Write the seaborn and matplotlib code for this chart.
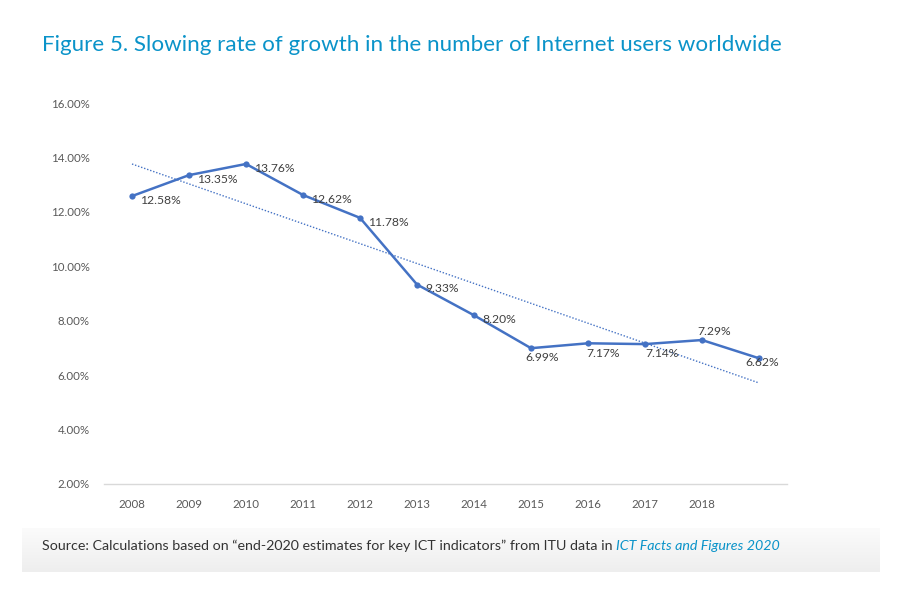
import numpy as np
import pandas as pd
import seaborn as sns
import matplotlib.pyplot as plt

years = ["2008", "2009", "2010", "2011", "2012", "2013", "2014", "2015",
         "2016", "2017", "2018", ""]
growth = [12.58, 13.35, 13.76, 12.62, 11.78, 9.33, 8.20, 6.99,
          7.17, 7.14, 7.29, 6.62]
y_ticks = [2, 4, 6, 8, 10, 12, 14, 16]

title = "Figure 5. Slowing rate of growth in the number of Internet users worldwide"
source_plain = "Source: Calculations based on \u201cend-2020 estimates for key ICT indicators\u201d from ITU data in "
source_italic = "ICT Facts and Figures 2020"

sns.set_theme(style="white")
plt.rcParams["font.family"] = ["Lato", "DejaVu Sans"]

BLUE = "#4472C4"
TITLE_BLUE = "#0A93C9"

df = pd.DataFrame({"pos": np.arange(len(growth)), "growth": growth})

fig = plt.figure(figsize=(9.04, 5.90), dpi=100)

# source box with a soft vertical gradient
bg = fig.add_axes([22 / 904, 1 - 572 / 590, 858 / 904, 44 / 590], zorder=0)
grad = np.linspace(0, 1, 64).reshape(-1, 1)
bg.imshow(grad, aspect="auto", cmap=sns.blend_palette(["#FBFBFB", "#EEEEEE"], as_cmap=True),
          extent=(0, 1, 1, 0))
bg.set_axis_off()

ax = fig.add_axes([0.1145, 0.1797, 0.7566, 0.6457])

# dotted linear trendline
sns.regplot(data=df, x="pos", y="growth", ax=ax, scatter=False, ci=None,
            truncate=True,
            line_kws=dict(color=BLUE, lw=1.0, ls=(0, (1, 1.3))))

sns.lineplot(data=df, x="pos", y="growth", ax=ax, color=BLUE, lw=1.8,
             marker="o", markersize=4.5, markeredgewidth=0)

# label offsets in points (dx, dy)
offsets = [(6, -3)] * 7 + [(-4, -7), (-1, -7), (0, -7), (-3, 6), (-10, -3)]
for i, v in enumerate(growth):
    dx, dy = offsets[i]
    ax.annotate(f"{v:.2f}%", (i, v), xytext=(dx, dy), textcoords="offset points",
                ha="left", va="center", fontsize=8.7, color="#404040")

ax.set_xlim(-0.5, len(growth) - 0.5)
ax.set_ylim(2, 16)
ax.set_xticks(range(len(years)))
ax.set_xticklabels(years)
ax.set_yticks(y_ticks)
ax.set_yticklabels([f"{t:.2f}%" for t in y_ticks])
ax.tick_params(axis="both", length=0, labelsize=8.3, labelcolor="#595959")
ax.tick_params(axis="x", pad=11)
ax.tick_params(axis="y", pad=10)
ax.set_xlabel("")
ax.set_ylabel("")
for s in ["top", "right", "left"]:
    ax.spines[s].set_visible(False)
ax.spines["bottom"].set_color("#D9D9D9")
ax.spines["bottom"].set_linewidth(1.0)

fig.text(42 / 904, 1 - 45 / 590, title, fontsize=16.1, color=TITLE_BLUE,
         va="center", ha="left")

t1 = fig.text(42 / 904, 1 - 546 / 590, source_plain, fontsize=10.3,
              color="#333333", va="center", ha="left")
fig.canvas.draw()
bb = t1.get_window_extent()
fig.text(bb.x1 / fig.bbox.width, 1 - 546 / 590, source_italic, fontsize=10.3,
         color=TITLE_BLUE, style="italic", va="center", ha="left")

fig.savefig("out.png", dpi=100)
